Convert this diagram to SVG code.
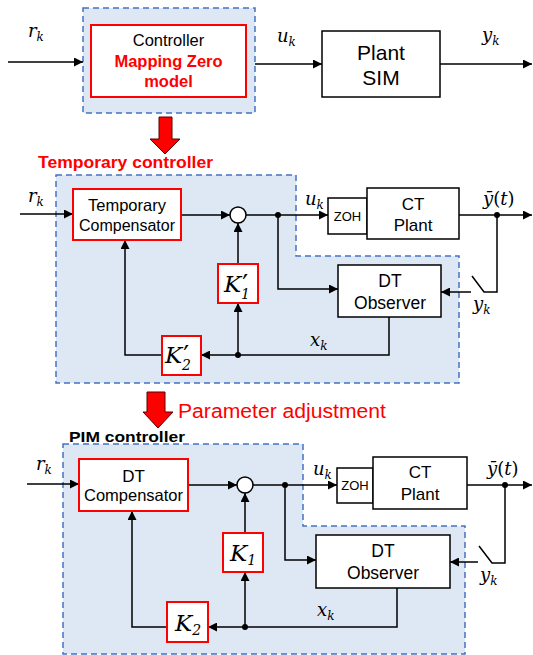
<svg xmlns="http://www.w3.org/2000/svg" width="533" height="655" viewBox="0 0 533 655">
<defs>
<style>
.t{font-family:"Liberation Sans",Arial,sans-serif;fill:#000;text-anchor:middle}
.tl{font-family:"Liberation Sans",Arial,sans-serif;fill:#000}
.red{fill:#ff0000}
.m{font-family:"DejaVu Serif",serif;font-style:italic;font-size:18px;fill:#000}
.mk{font-family:"DejaVu Serif",serif;font-style:italic;font-size:23px;fill:#000}
.pr{font-style:normal;font-size:26px}
.region{fill:#dee8f4;stroke:#4472c4;stroke-width:1.5;stroke-dasharray:6 4}
.rbox{fill:#fff;stroke:#ff0000;stroke-width:2}
.bbox{fill:#fff;stroke:#000;stroke-width:1.5}
.ln{fill:none;stroke:#000;stroke-width:1.5}
.arr{fill:none;stroke:#000;stroke-width:1.5;marker-end:url(#ah)}
.dot{fill:#000}
.big{fill:#ff0000;stroke:#5a0000;stroke-width:1}
</style>
<marker id="ah" viewBox="0 0 10 10" refX="10" refY="5" markerWidth="10" markerHeight="9" markerUnits="userSpaceOnUse" orient="auto">
<path d="M0,0 L10,5 L0,10 z" fill="#000"/>
</marker>
</defs>

<!-- regions -->
<g id="regions">
<rect id="top-region" class="region" x="83" y="8" width="172" height="105"/>
<polygon id="mid-region" class="region" points="56,175 296,175 296,256 459,256 459,383 56,383"/>
<polygon id="bot-region" class="region" points="63,444 303,444 303,526 465,526 465,654 63,654"/>
</g>

<!-- connectors -->
<g id="connectors">
<!-- top -->
<line class="arr" x1="8" y1="62" x2="83" y2="62"/>
<line class="arr" x1="255" y1="64" x2="322" y2="64"/>
<line class="arr" x1="440" y1="64" x2="532" y2="64"/>
<!-- middle -->
<line class="arr" x1="20" y1="214" x2="73" y2="214"/>
<line class="arr" x1="181" y1="215" x2="230" y2="215"/>
<line class="arr" x1="246" y1="215" x2="328" y2="215"/>
<line class="arr" x1="459" y1="215" x2="532" y2="215"/>
<polyline class="ln" points="497,215 497,292 484,292 472,276"/>
<line class="arr" x1="471" y1="292" x2="441" y2="292"/>
<polyline class="arr" points="278,215 278,289 338,289"/>
<polyline class="arr" points="389,317 389,355 201,355"/>
<polyline class="arr" points="162,355 125,355 125,240"/>
<line class="arr" x1="238" y1="355" x2="238" y2="303"/>
<line class="arr" x1="238" y1="264" x2="238" y2="223"/>
<circle class="dot" cx="278" cy="215" r="3"/>
<circle class="dot" cx="497" cy="215" r="3"/>
<circle class="dot" cx="238" cy="355" r="3"/>
<!-- bottom -->
<line class="arr" x1="27" y1="484" x2="79" y2="484"/>
<line class="arr" x1="188" y1="485" x2="237" y2="485"/>
<line class="arr" x1="253" y1="485" x2="337" y2="485"/>
<line class="arr" x1="467" y1="485" x2="532" y2="485"/>
<polyline class="ln" points="505,485 505,563 492,563 479,546"/>
<line class="arr" x1="478" y1="562" x2="450" y2="562"/>
<polyline class="arr" points="285,485 285,560 316,560"/>
<polyline class="arr" points="397,588 397,627 208,627"/>
<polyline class="arr" points="167,627 132,627 132,511"/>
<line class="arr" x1="245" y1="627" x2="245" y2="572"/>
<line class="arr" x1="245" y1="533" x2="245" y2="493"/>
<circle class="dot" cx="285" cy="485" r="3"/>
<circle class="dot" cx="505" cy="485" r="3"/>
<circle class="dot" cx="245" cy="627" r="3"/>
</g>

<!-- big red arrows -->
<g id="red-arrows">
<polygon class="big" points="159,117 172,117 172,139 180,139 165,154 150,139 159,139"/>
<polygon class="big" points="147,392 165,392 165,412 173,412 158,428 143,412 147,412"/>
</g>

<!-- labels -->
<g id="labels">
<text class="tl red" x="38" y="168" font-size="16.5" font-weight="bold" textLength="175" lengthAdjust="spacingAndGlyphs">Temporary controller</text>
<text class="tl red" x="178" y="418" font-size="20" textLength="208" lengthAdjust="spacingAndGlyphs">Parameter adjustment</text>
<text class="tl" x="69" y="442" font-size="15.5" font-weight="bold" textLength="116" lengthAdjust="spacingAndGlyphs">PIM controller</text>

<text class="m" x="28" y="37">r<tspan font-size="12" dy="4">k</tspan></text>
<text class="m" x="277" y="42">u<tspan font-size="12" dy="4">k</tspan></text>
<text class="m" x="482" y="41">y<tspan font-size="12" dy="4">k</tspan></text>

<text class="m" x="28" y="202">r<tspan font-size="12" dy="4">k</tspan></text>
<text class="m" x="305" y="205">u<tspan font-size="12" dy="4">k</tspan></text>
<text class="m" x="483" y="205">ȳ<tspan font-style="normal">(</tspan>t<tspan font-style="normal">)</tspan></text>
<text class="m" x="473" y="310">y<tspan font-size="12" dy="4">k</tspan></text>
<text class="m" x="310" y="346">x<tspan font-size="12" dy="4">k</tspan></text>

<text class="m" x="36" y="470">r<tspan font-size="12" dy="4">k</tspan></text>
<text class="m" x="313" y="475">u<tspan font-size="12" dy="4">k</tspan></text>
<text class="m" x="487" y="475">ȳ<tspan font-style="normal">(</tspan>t<tspan font-style="normal">)</tspan></text>
<text class="m" x="480" y="581">y<tspan font-size="12" dy="4">k</tspan></text>
<text class="m" x="317" y="616">x<tspan font-size="12" dy="4">k</tspan></text>
</g>

<!-- nodes -->
<g id="controller">
<rect class="rbox" x="91" y="25" width="155" height="72"/>
<text class="t" x="168.5" y="46" font-size="16.5">Controller</text>
<text class="t red" x="168.5" y="67" font-size="16.5" font-weight="bold">Mapping Zero</text>
<text class="t red" x="168.5" y="87" font-size="16.5" font-weight="bold">model</text>
</g>
<g id="plant-sim">
<rect class="bbox" x="322" y="31" width="118" height="66"/>
<text class="t" x="381" y="60" font-size="21">Plant</text>
<text class="t" x="381" y="85" font-size="21">SIM</text>
</g>

<g id="temp-compensator">
<rect class="rbox" x="73" y="189" width="108" height="51"/>
<text class="t" x="127" y="211" font-size="16.5">Temporary</text>
<text class="t" x="127" y="231" font-size="16">Compensator</text>
</g>
<g id="sum1"><circle class="bbox" cx="238" cy="215" r="8"/></g>
<g id="zoh1">
<rect class="bbox" x="328" y="198" width="39" height="36"/>
<text class="t" x="347.5" y="221" font-size="13">ZOH</text>
</g>
<g id="ct-plant1">
<rect class="bbox" x="367" y="188" width="92" height="51"/>
<text class="t" x="413" y="210" font-size="17">CT</text>
<text class="t" x="413" y="231" font-size="17">Plant</text>
</g>
<g id="dt-observer1">
<rect class="bbox" x="338" y="265" width="103" height="52"/>
<text class="t" x="390" y="287" font-size="17.5">DT</text>
<text class="t" x="390" y="309" font-size="17.5">Observer</text>
</g>
<g id="k1p">
<rect class="rbox" x="218" y="264" width="40" height="39"/>
<text class="mk" x="224" y="292">K<tspan class="pr" dx="1" dy="1">′</tspan><tspan font-size="14" dx="-7" dy="6">1</tspan></text>
</g>
<g id="k2p">
<rect class="rbox" x="162" y="336" width="39" height="39"/>
<text class="mk" x="165" y="363">K<tspan class="pr" dx="1" dy="1">′</tspan><tspan font-size="14" dx="-7" dy="6">2</tspan></text>
</g>

<g id="dt-compensator">
<rect class="rbox" x="79" y="459" width="109" height="52"/>
<text class="t" x="133.5" y="482" font-size="17">DT</text>
<text class="t" x="133.5" y="501" font-size="16.5">Compensator</text>
</g>
<g id="sum2"><circle class="bbox" cx="245" cy="485" r="8"/></g>
<g id="zoh2">
<rect class="bbox" x="337" y="468" width="36" height="35"/>
<text class="t" x="355" y="490" font-size="13">ZOH</text>
</g>
<g id="ct-plant2">
<rect class="bbox" x="373" y="457" width="94" height="52"/>
<text class="t" x="420" y="478" font-size="17">CT</text>
<text class="t" x="420" y="500" font-size="17">Plant</text>
</g>
<g id="dt-observer2">
<rect class="bbox" x="316" y="535" width="134" height="53"/>
<text class="t" x="383" y="557" font-size="17.5">DT</text>
<text class="t" x="383" y="579" font-size="17.5">Observer</text>
</g>
<g id="k1">
<rect class="rbox" x="223" y="533" width="40" height="39"/>
<text class="mk" x="230" y="561">K<tspan font-size="14" dy="4">1</tspan></text>
</g>
<g id="k2">
<rect class="rbox" x="167" y="602" width="41" height="40"/>
<text class="mk" x="175" y="631">K<tspan font-size="14" dy="4">2</tspan></text>
</g>
</svg>
